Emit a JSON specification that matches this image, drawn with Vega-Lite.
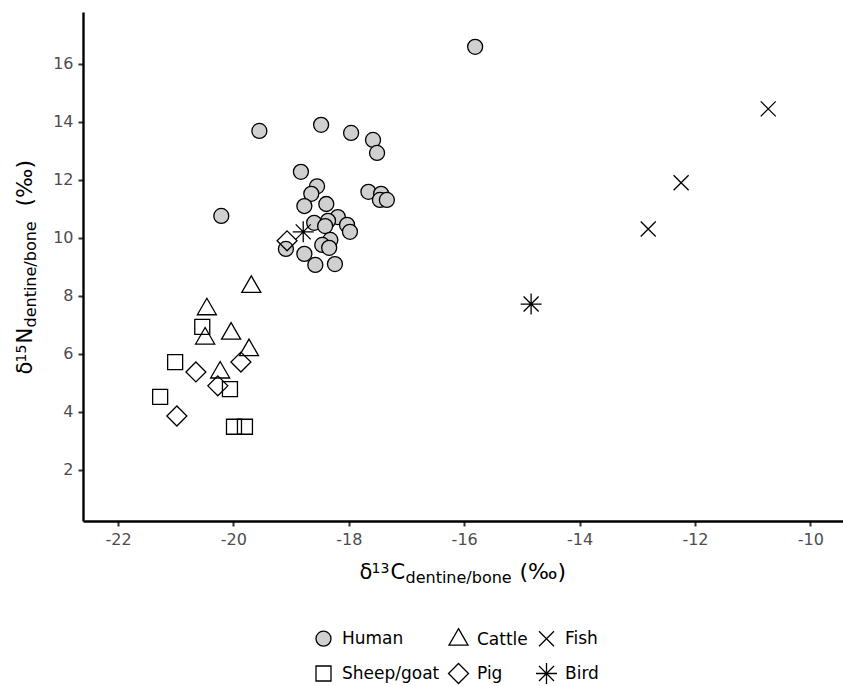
{
  "$schema": "https://vega.github.io/schema/vega-lite/v6.json",
  "width": 760,
  "height": 509,
  "autosize": "none",
  "padding": {"left": 83, "top": 12, "right": 0, "bottom": 165},
  "background": "white",
  "data": {
    "values": [
      {"group": "Human", "c": -15.81, "n": 16.59},
      {"group": "Human", "c": -19.55, "n": 13.69},
      {"group": "Human", "c": -18.48, "n": 13.90},
      {"group": "Human", "c": -17.96, "n": 13.62},
      {"group": "Human", "c": -17.58, "n": 13.38},
      {"group": "Human", "c": -17.51, "n": 12.93},
      {"group": "Human", "c": -18.83, "n": 12.28},
      {"group": "Human", "c": -20.21, "n": 10.76},
      {"group": "Human", "c": -17.66, "n": 11.59},
      {"group": "Human", "c": -17.44, "n": 11.52},
      {"group": "Human", "c": -17.46, "n": 11.31},
      {"group": "Human", "c": -17.34, "n": 11.31},
      {"group": "Human", "c": -18.55, "n": 11.78},
      {"group": "Human", "c": -18.65, "n": 11.52},
      {"group": "Human", "c": -18.77, "n": 11.10},
      {"group": "Human", "c": -18.39, "n": 11.17},
      {"group": "Human", "c": -18.60, "n": 10.52},
      {"group": "Human", "c": -18.19, "n": 10.72},
      {"group": "Human", "c": -18.36, "n": 10.59},
      {"group": "Human", "c": -18.41, "n": 10.41},
      {"group": "Human", "c": -18.03, "n": 10.45},
      {"group": "Human", "c": -17.98, "n": 10.21},
      {"group": "Human", "c": -18.32, "n": 9.93},
      {"group": "Human", "c": -18.46, "n": 9.76},
      {"group": "Human", "c": -18.34, "n": 9.66},
      {"group": "Human", "c": -19.09, "n": 9.62},
      {"group": "Human", "c": -18.77, "n": 9.45},
      {"group": "Human", "c": -18.58, "n": 9.07},
      {"group": "Human", "c": -18.24, "n": 9.10},
      {"group": "Cattle", "c": -19.69, "n": 8.31},
      {"group": "Cattle", "c": -20.46, "n": 7.54},
      {"group": "Cattle", "c": -20.04, "n": 6.70},
      {"group": "Cattle", "c": -20.49, "n": 6.53},
      {"group": "Cattle", "c": -19.73, "n": 6.13},
      {"group": "Cattle", "c": -20.23, "n": 5.36},
      {"group": "Sheep/goat", "c": -20.54, "n": 6.93},
      {"group": "Sheep/goat", "c": -21.01, "n": 5.72},
      {"group": "Sheep/goat", "c": -20.06, "n": 4.79},
      {"group": "Sheep/goat", "c": -21.27, "n": 4.52},
      {"group": "Sheep/goat", "c": -19.99, "n": 3.49},
      {"group": "Sheep/goat", "c": -19.80, "n": 3.49},
      {"group": "Pig", "c": -20.65, "n": 5.38},
      {"group": "Pig", "c": -19.87, "n": 5.72},
      {"group": "Pig", "c": -20.27, "n": 4.90},
      {"group": "Pig", "c": -20.98, "n": 3.86},
      {"group": "Pig", "c": -19.07, "n": 9.90},
      {"group": "Fish", "c": -10.73, "n": 14.45},
      {"group": "Fish", "c": -12.24, "n": 11.90},
      {"group": "Fish", "c": -12.81, "n": 10.31},
      {"group": "Bird", "c": -18.79, "n": 10.21},
      {"group": "Bird", "c": -14.84, "n": 7.72}
    ]
  },
  "layer": [
    {
      "mark": {"type": "point", "filled": false, "opacity": 1, "size": 225, "stroke": "black", "strokeWidth": 1.3},
      "encoding": {
        "x": {
          "field": "c", "type": "quantitative",
          "scale": {"domain": [-22.607, -9.434], "nice": false, "zero": false},
          "axis": {"orient": "bottom", "values": [-22, -20, -18, -16, -14, -12, -10], "labelExpr": "replace(datum.label, '−', '-')", "title": "δ", "titleX": 276, "titleY": 57, "titleAlign": "left", "titleBaseline": "alphabetic", "titleFontSize": 21}
        },
        "y": {
          "field": "n", "type": "quantitative",
          "scale": {"domain": [0.24, 17.79], "nice": false, "zero": false},
          "axis": {"orient": "left", "values": [2, 4, 6, 8, 10, 12, 14, 16], "title": "δ", "titleX": -52, "titleY": 362, "titleAlign": "left", "titleBaseline": "alphabetic", "titleAngle": -90, "titleFontSize": 21}
        },
        "shape": {
          "field": "group", "type": "nominal",
          "scale": {
            "domain": ["Human", "Cattle", "Fish", "Sheep/goat", "Pig", "Bird"],
            "range": ["circle", "M0,-1.47L1.27,0.73L-1.27,0.73Z", "M-1,-1L1,1M-1,1L1,-1", "M-1,-1L1,-1L1,1L-1,1Z", "M0,-1.33L1.33,0L0,1.33L-1.33,0Z", "M-1.4,0L1.4,0M0,-1.4L0,1.4M-1,-1L1,1M-1,1L1,-1"]
          },
          "legend": {"title": null, "orient": "none", "legendX": 232, "legendY": 618, "columns": 3, "direction": "horizontal", "symbolStrokeColor": "black", "symbolStrokeWidth": 1.3, "encoding": {"symbols": {"stroke": {"value": "black"}, "strokeWidth": {"value": 1.3}}}}
        },
        "fill": {
          "field": "group", "type": "nominal",
          "scale": {
            "domain": ["Human", "Cattle", "Fish", "Sheep/goat", "Pig", "Bird"],
            "range": ["#d0d0d0", "transparent", "transparent", "transparent", "transparent", "transparent"]
          },
          "legend": {"title": null, "orient": "none", "legendX": 232, "legendY": 618, "columns": 3, "direction": "horizontal", "symbolStrokeColor": "black", "symbolStrokeWidth": 1.3, "encoding": {"symbols": {"stroke": {"value": "black"}, "strokeWidth": {"value": 1.3}}}}
        }
      }
    },
    {
      "mark": {"type": "point", "opacity": 0},
      "encoding": {
        "x": {"field": "c", "type": "quantitative", "axis": {"orient": "bottom", "labels": false, "ticks": false, "domain": false, "title": "13", "titleX": 288, "titleY": 51, "titleAlign": "left", "titleBaseline": "alphabetic", "titleFontSize": 14}},
        "y": {"field": "n", "type": "quantitative", "axis": {"orient": "left", "labels": false, "ticks": false, "domain": false, "title": "15", "titleX": -58, "titleY": 350, "titleAlign": "left", "titleBaseline": "alphabetic", "titleAngle": -90, "titleFontSize": 14}}
      }
    },
    {
      "mark": {"type": "point", "opacity": 0},
      "encoding": {
        "x": {"field": "c", "type": "quantitative", "axis": {"orient": "bottom", "labels": false, "ticks": false, "domain": false, "title": "C", "titleX": 307, "titleY": 57, "titleAlign": "left", "titleBaseline": "alphabetic", "titleFontSize": 21}},
        "y": {"field": "n", "type": "quantitative", "axis": {"orient": "left", "labels": false, "ticks": false, "domain": false, "title": "N", "titleX": -52, "titleY": 331, "titleAlign": "left", "titleBaseline": "alphabetic", "titleAngle": -90, "titleFontSize": 21}}
      }
    },
    {
      "mark": {"type": "point", "opacity": 0},
      "encoding": {
        "x": {"field": "c", "type": "quantitative", "axis": {"orient": "bottom", "labels": false, "ticks": false, "domain": false, "title": "dentine/bone", "titleX": 322, "titleY": 61, "titleAlign": "left", "titleBaseline": "alphabetic", "titleFontSize": 16}},
        "y": {"field": "n", "type": "quantitative", "axis": {"orient": "left", "labels": false, "ticks": false, "domain": false, "title": "dentine/bone", "titleX": -48, "titleY": 315, "titleAlign": "left", "titleBaseline": "alphabetic", "titleAngle": -90, "titleFontSize": 16}}
      }
    },
    {
      "mark": {"type": "point", "opacity": 0},
      "encoding": {
        "x": {"field": "c", "type": "quantitative", "axis": {"orient": "bottom", "labels": false, "ticks": false, "domain": false, "title": "(‰)", "titleX": 436, "titleY": 57, "titleAlign": "left", "titleBaseline": "alphabetic", "titleFontSize": 22}},
        "y": {"field": "n", "type": "quantitative", "axis": {"orient": "left", "labels": false, "ticks": false, "domain": false, "title": "(‰)", "titleX": -52, "titleY": 194, "titleAlign": "left", "titleBaseline": "alphabetic", "titleAngle": -90, "titleFontSize": 22}}
      }
    }
  ],
  "resolve": {"axis": {"x": "independent", "y": "independent"}},
  "config": {
    "view": {"stroke": null},
    "font": "DejaVu Sans",
    "axis": {
      "grid": false,
      "domainColor": "black",
      "domainWidth": 2.4,
      "tickColor": "#333333",
      "tickWidth": 2,
      "tickSize": 5,
      "labelFont": "DejaVu Sans",
      "labelFontSize": 16,
      "labelColor": "#4d4d4d",
      "labelPadding": 5,
      "titleFont": "DejaVu Sans",
      "titleFontWeight": "normal",
      "titleColor": "black"
    },
    "legend": {
      "labelFont": "DejaVu Sans",
      "labelFontSize": 17,
      "labelColor": "black",
      "labelOffset": 10,
      "symbolSize": 225,
      "symbolStrokeColor": "black",
      "symbolStrokeWidth": 1.3,
      "columnPadding": 5,
      "rowPadding": 11,
      "gridAlign": "each"
    }
  }
}
